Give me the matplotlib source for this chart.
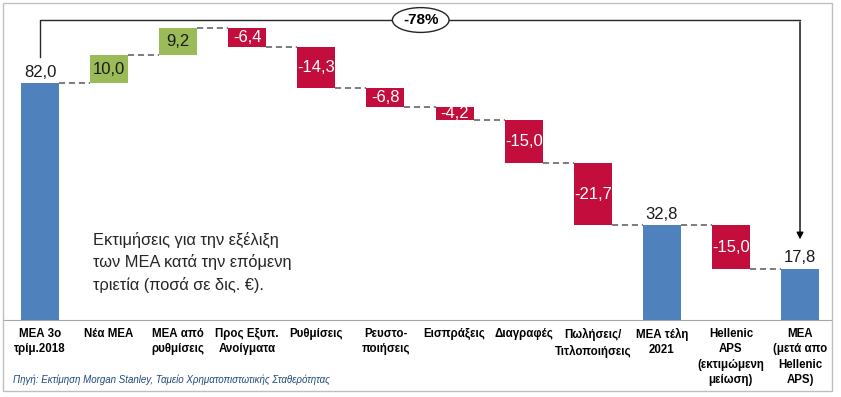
import numpy as np
import matplotlib.pyplot as plt
from matplotlib.patches import Ellipse, Rectangle

plt.rcParams['font.family'] = ['Liberation Sans', 'DejaVu Sans']

# Chart data
labels = ['ΜΕΑ 3ο\nτρίμ.2018', 'Νέα ΜΕΑ', 'ΜΕΑ από\nρυθμίσεις', 'Προς Εξυπ.\nΑνοίγματα',
          'Ρυθμίσεις', 'Ρευστο-\nποιήσεις', 'Εισπράξεις', 'Διαγραφές',
          'Πωλήσεις/\nΤιτλοποιήσεις', 'ΜΕΑ τέλη\n2021',
          'Hellenic\nAPS\n(εκτιμώμενη\nμείωση)', 'ΜΕΑ\n(μετά απο\nHellenic\nAPS)']
values = [82.0, 10.0, 9.2, -6.4, -14.3, -6.8, -4.2, -15.0, -21.7, 32.8, -15.0, 17.8]
is_total = [True, False, False, False, False, False, False, False, False, True, False, True]
change_text = '-78%'
note = 'Εκτιμήσεις για την εξέλιξη\nτων ΜΕΑ κατά την επόμενη\nτριετία (ποσά σε δις. €).'
source = 'Πηγή: Εκτίμηση Morgan Stanley, Ταμείο Χρηματοπιστωτικής Σταθερότητας'

BLUE = '#4F81BD'
GREEN = '#9BBB59'
RED = '#C20D3D'

def fmt(v):
    return f'{v:.1f}'.replace('.', ',')

fig = plt.figure(figsize=(8.41, 3.97), dpi=100)
ax = fig.add_axes([3 / 841, 77 / 397, 829 / 841, 317 / 397])

x = np.arange(len(values))
width = 0.55
level = 0.0
bottoms, heights, colors, tops = [], [], [], []
for v, tot in zip(values, is_total):
    if tot:
        bottoms.append(0)
        heights.append(v)
        colors.append(BLUE)
        level = v
    else:
        new = level + v
        bottoms.append(min(level, new))
        heights.append(abs(v))
        colors.append(GREEN if v > 0 else RED)
        level = new
    tops.append(level)

ax.bar(x, heights, bottom=bottoms, width=width, color=colors, zorder=3)

# connectors
for i in range(len(values) - 1):
    ax.plot([x[i] + width / 2, x[i + 1] - width / 2], [tops[i], tops[i]],
            color='#595959', lw=1.1, ls=(0, (4, 2.5)), zorder=2)

# value labels
for i, v in enumerate(values):
    if is_total[i]:
        ax.text(x[i], heights[i] + 1.2, fmt(v), ha='center', va='bottom',
                fontsize=12, color='#1a1a1a')
    else:
        ax.text(x[i], bottoms[i] + heights[i] / 2, fmt(v), ha='center', va='center',
                fontsize=12, color='#1a1a1a' if v > 0 else 'white', zorder=4)

# bracket showing overall change
top_y = 104.0
ax.plot([x[0], x[0], x[-1]], [91.2, top_y, top_y], color='#262626', lw=1.0, zorder=2)
ax.annotate('', xy=(x[-1], 27.0), xytext=(x[-1], top_y + 0.3),
            arrowprops=dict(arrowstyle='-|>', color='black', lw=1.0, mutation_scale=10))
ax.add_patch(Ellipse((5.51, top_y), 0.82, 8.6, facecolor='white', edgecolor='#262626',
                     lw=1.0, zorder=4))
ax.text(5.51, top_y, change_text, ha='center', va='center', fontsize=11,
        fontweight='bold', zorder=5)

ax.text(0.77, 20.0, note, ha='left', va='center', fontsize=11.8, color='#262626',
        linespacing=1.5)

ax.set_xlim(-0.536, 11.463)
ax.set_ylim(0, 109.9)
ax.set_xticks(x)
ax.set_xticklabels(labels, fontsize=8.3, fontweight='bold', va='top', linespacing=1.35)
ax.tick_params(axis='x', length=0, pad=6)
ax.set_yticks([])
for s in ['top', 'left', 'right']:
    ax.spines[s].set_visible(False)
ax.spines['bottom'].set_color('#A6A6A6')

fig.text(13 / 841, 1 - 380 / 397, source, fontsize=7, style='italic', color='#1F497D',
         va='center', ha='left')

fig.patches.append(Rectangle((3 / 841, 6 / 397), 829 / 841, 388 / 397, transform=fig.transFigure,
                             fill=False, edgecolor='#BFBFBF', lw=1.0))

fig.savefig('out.png', dpi=100)
